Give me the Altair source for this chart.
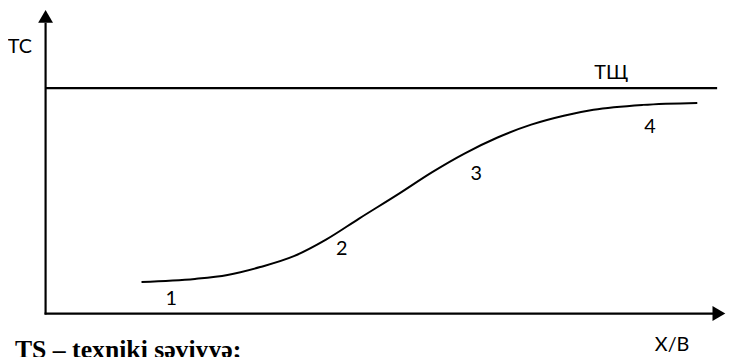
import altair as alt
import pandas as pd

# --- data (conceptual units: origin at the axes' corner, 0..100 along each axis) ---
curve_x = [14.12, 21.98, 26.78, 31.59, 36.54, 41.34, 46.14, 51.97, 56.91,
           61.72, 66.52, 71.47, 76.27, 80.64, 87.92, 95.92]
curve_y = [10.42, 11.40, 12.70, 15.31, 18.89, 24.43, 31.27, 39.41, 46.58,
           52.77, 57.98, 62.21, 65.15, 67.10, 68.73, 69.38]

level_y = 74.27          # ТЩ horizontal level
level_x_end = 98.84

axis_y_top = 95.8
axis_x_end = 98.4

point_labels = ["1", "2", "3", "4"]
point_lx = [18.49, 43.6, 63.39, 88.94]
point_ly = [2.70, 19.22, 43.97, 59.61]

axis_labels = ["ТС", "ТЩ", "Х/В"]
axis_lx = [-3.78, 83.26, 92.21]
axis_ly = [85.67, 77.2, -12.38]

caption = ["TS – texniki səviyyə;"]
caption_x = [-4.51]
caption_y = [-14.66]

# --- scales ---
W, H = 726, 349
xs = alt.Scale(domain=[-5.531, 100.146], nice=False, zero=False)
ys = alt.Scale(domain=[-13.68, 100.0], nice=False, zero=False)

def X(f):
    return alt.X(f, type="quantitative", scale=xs, axis=None)

def Y(f):
    return alt.Y(f, type="quantitative", scale=ys, axis=None)

curve_df = pd.DataFrame({"x": curve_x, "y": curve_y})
rules_df = pd.DataFrame({
    "x": [0.0, -0.15, 0.0],
    "x2": [0.0, axis_x_end, level_x_end],
    "y": [-0.3, 0.0, level_y],
    "y2": [axis_y_top, 0.0, level_y],
})
arrow_up_df = pd.DataFrame({"x": [0.0], "y": [97.88]})
arrow_right_df = pd.DataFrame({"x": [99.1], "y": [0.0]})
pts_df = pd.DataFrame({"t": point_labels, "x": point_lx, "y": point_ly})
ax_df = pd.DataFrame({"t": axis_labels, "x": axis_lx, "y": axis_ly})
cap_df = pd.DataFrame({"t": caption, "x": caption_x, "y": caption_y})

curve = alt.Chart(curve_df).mark_line(
    interpolate="monotone", color="black", strokeWidth=2
).encode(x=X("x"), y=Y("y"))

rules = alt.Chart(rules_df).mark_rule(color="black", strokeWidth=2.2).encode(
    x=X("x"), x2="x2", y=Y("y"), y2="y2"
)

arrow_up = alt.Chart(arrow_up_df).mark_point(
    shape="triangle-up", filled=True, size=225, color="black", opacity=1, strokeWidth=0
).encode(x=X("x"), y=Y("y"))

arrow_right = alt.Chart(arrow_right_df).mark_point(
    shape="triangle-right", filled=True, size=225, color="black", opacity=1, strokeWidth=0
).encode(x=X("x"), y=Y("y"))

pts = alt.Chart(pts_df).mark_text(
    font="Lato", fontSize=20, align="center", baseline="alphabetic", color="black"
).encode(x=X("x"), y=Y("y"), text="t:N")

axl = alt.Chart(ax_df).mark_text(
    font="Lato", fontSize=20, align="center", baseline="alphabetic", color="black"
).encode(x=X("x"), y=Y("y"), text="t:N")

cap = alt.Chart(cap_df).mark_text(
    font="Liberation Serif", fontSize=26, fontWeight="bold", align="left",
    baseline="alphabetic", color="black"
).encode(x=X("x"), y=Y("y"), text="t:N")

chart = alt.layer(rules, curve, arrow_up, arrow_right, pts, axl, cap).properties(
    width=W, height=H, padding=0, autosize=alt.AutoSizeParams(type="none"),
    background="white"
).configure_view(stroke=None)

chart.save("out.html", embed_options={"renderer": "svg", "actions": False})
